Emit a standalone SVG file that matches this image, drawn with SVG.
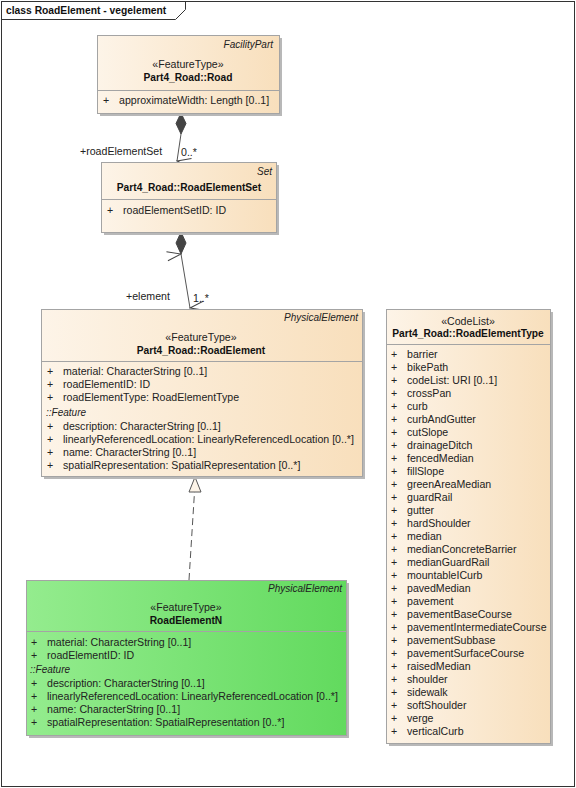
<svg xmlns="http://www.w3.org/2000/svg" width="576" height="788" viewBox="0 0 576 788">
<defs>
<linearGradient id="beige" x1="0" y1="0" x2="1" y2="0">
<stop offset="0" stop-color="#fdf4e8"/>
<stop offset="1" stop-color="#f8dfbc"/>
</linearGradient>
<linearGradient id="green" x1="0" y1="0" x2="1" y2="0">
<stop offset="0" stop-color="#94ec8e"/>
<stop offset="1" stop-color="#62da5e"/>
</linearGradient>
<marker id="openArrow" markerWidth="12" markerHeight="16" refX="6" refY="15" orient="auto-start-reverse" markerUnits="userSpaceOnUse" viewBox="0 0 12 16">
<path d="M1.5,1 L6,15 L10.5,1" fill="none" stroke="#444" stroke-width="1"/>
</marker>
<style>
text{font-family:"Liberation Sans",Arial,sans-serif;font-size:10.6px;fill:#222}
.b{font-weight:bold;fill:#111;font-size:10.2px}
.i{font-style:italic;font-size:10px}
.c{text-anchor:middle}
.r{text-anchor:end}
.box{stroke:#a4a4a4;stroke-width:1}
.sh{fill:#b8b8b8}
.sep{stroke:#a4a4a4;stroke-width:1}
.ln{stroke:#555;stroke-width:1;fill:none}
</style>
</defs>
<rect x="0" y="0" width="576" height="788" fill="#fff"/>
<g id="frame">
<rect x="1.5" y="1.5" width="573" height="785" fill="none" stroke="#333" stroke-width="1"/>
<path d="M1.5,19.5 L175.5,19.5 L185.5,9.5 L185.5,1.5" fill="none" stroke="#333" stroke-width="1"/>
<text x="6" y="14" class="b" style="font-size:10.3px">class RoadElement - vegelement</text>
</g>
<g id="connectors">
<line class="ln" x1="181" y1="134" x2="177" y2="161" marker-end="url(#openArrow)"/>
<path d="M181,113 L186,123.5 L181,134 L176,123.5 Z" fill="#444" stroke="#444"/>
<text x="80" y="155">+roadElementSet</text>
<text x="181" y="156">0..*</text>
<line class="ln" x1="181" y1="254" x2="190" y2="308" marker-start="url(#openArrow)" marker-end="url(#openArrow)"/>
<path d="M181,232 L186,243 L181,254 L176,243 Z" fill="#444" stroke="#444"/>
<text x="126" y="300">+element</text>
<text x="193" y="302">1..*</text>
<line x1="189" y1="580" x2="194.5" y2="492" stroke="#555" stroke-width="1" stroke-dasharray="7,4"/>
<path d="M195,477 L201,492 L189,492 Z" fill="#fdf4e8" stroke="#555" stroke-width="1"/>
</g>
<g id="Road">
<rect class="sh" x="100" y="38" width="182" height="78"/>
<rect class="box" x="97.5" y="35.5" width="182" height="78" fill="url(#beige)"/>
<text x="273" y="48" class="i r">FacilityPart</text>
<text x="188" y="68" class="c">«FeatureType»</text>
<text x="188" y="81" class="b c">Part4_Road::Road</text>
<line class="sep" x1="97.5" y1="90.5" x2="279.5" y2="90.5"/>
<text x="103" y="104">+</text>
<text x="119" y="104">approximateWidth: Length [0..1]</text>
</g>
<g id="RoadElementSet">
<rect class="sh" x="104" y="165" width="175" height="70"/>
<rect class="box" x="101.5" y="162.5" width="175" height="70" fill="url(#beige)"/>
<text x="272" y="175" class="i r">Set</text>
<text x="189" y="191" class="b c">Part4_Road::RoadElementSet</text>
<line class="sep" x1="101.5" y1="199.5" x2="276.5" y2="199.5"/>
<text x="107" y="214">+</text>
<text x="123" y="214">roadElementSetID: ID</text>
</g>
<g id="RoadElement">
<rect class="sh" x="44" y="312" width="321" height="167"/>
<rect class="box" x="41.5" y="309.5" width="321" height="167" fill="url(#beige)"/>
<text x="358" y="321" class="i r">PhysicalElement</text>
<text x="201" y="341" class="c">«FeatureType»</text>
<text x="201" y="354" class="b c">Part4_Road::RoadElement</text>
<line class="sep" x1="41.5" y1="361.5" x2="362.5" y2="361.5"/>
<text x="47" y="375">+</text><text x="63" y="375">material: CharacterString [0..1]</text>
<text x="47" y="388">+</text><text x="63" y="388">roadElementID: ID</text>
<text x="47" y="401">+</text><text x="63" y="401">roadElementType: RoadElementType</text>
<text x="46" y="416" class="i">::Feature</text>
<text x="47" y="430">+</text><text x="63" y="430">description: CharacterString [0..1]</text>
<text x="47" y="443">+</text><text x="63" y="443">linearlyReferencedLocation: LinearlyReferencedLocation [0..*]</text>
<text x="47" y="456">+</text><text x="63" y="456">name: CharacterString [0..1]</text>
<text x="47" y="469">+</text><text x="63" y="469">spatialRepresentation: SpatialRepresentation [0..*]</text>
</g>
<g id="RoadElementN">
<rect class="sh" x="29" y="583" width="320" height="155"/>
<rect class="box" x="26.5" y="580.5" width="320" height="155" fill="url(#green)"/>
<text x="342" y="592" class="i r">PhysicalElement</text>
<text x="186" y="611" class="c">«FeatureType»</text>
<text x="186" y="624" class="b c">RoadElementN</text>
<line class="sep" x1="26.5" y1="631.5" x2="346.5" y2="631.5"/>
<text x="31" y="646">+</text><text x="47" y="646">material: CharacterString [0..1]</text>
<text x="31" y="659">+</text><text x="47" y="659">roadElementID: ID</text>
<text x="30" y="673" class="i">::Feature</text>
<text x="31" y="687">+</text><text x="47" y="687">description: CharacterString [0..1]</text>
<text x="31" y="700">+</text><text x="47" y="700">linearlyReferencedLocation: LinearlyReferencedLocation [0..*]</text>
<text x="31" y="713">+</text><text x="47" y="713">name: CharacterString [0..1]</text>
<text x="31" y="726">+</text><text x="47" y="726">spatialRepresentation: SpatialRepresentation [0..*]</text>
</g>
<g id="RoadElementType">
<rect class="sh" x="389" y="312" width="164" height="434"/>
<rect class="box" x="386.5" y="309.5" width="164" height="434" fill="url(#beige)"/>
<text x="468" y="325" class="c">«CodeList»</text>
<text x="468" y="337" class="b c">Part4_Road::RoadElementType</text>
<line class="sep" x1="386.5" y1="344.5" x2="550.5" y2="344.5"/>
<g>
<text x="391" y="358">+</text><text x="407" y="358">barrier</text>
<text x="391" y="371">+</text><text x="407" y="371">bikePath</text>
<text x="391" y="384">+</text><text x="407" y="384">codeList: URI [0..1]</text>
<text x="391" y="397">+</text><text x="407" y="397">crossPan</text>
<text x="391" y="410">+</text><text x="407" y="410">curb</text>
<text x="391" y="423">+</text><text x="407" y="423">curbAndGutter</text>
<text x="391" y="436">+</text><text x="407" y="436">cutSlope</text>
<text x="391" y="449">+</text><text x="407" y="449">drainageDitch</text>
<text x="391" y="462">+</text><text x="407" y="462">fencedMedian</text>
<text x="391" y="475">+</text><text x="407" y="475">fillSlope</text>
<text x="391" y="488">+</text><text x="407" y="488">greenAreaMedian</text>
<text x="391" y="501">+</text><text x="407" y="501">guardRail</text>
<text x="391" y="514">+</text><text x="407" y="514">gutter</text>
<text x="391" y="527">+</text><text x="407" y="527">hardShoulder</text>
<text x="391" y="540">+</text><text x="407" y="540">median</text>
<text x="391" y="553">+</text><text x="407" y="553">medianConcreteBarrier</text>
<text x="391" y="566">+</text><text x="407" y="566">medianGuardRail</text>
<text x="391" y="579">+</text><text x="407" y="579">mountableICurb</text>
<text x="391" y="592">+</text><text x="407" y="592">pavedMedian</text>
<text x="391" y="605">+</text><text x="407" y="605">pavement</text>
<text x="391" y="618">+</text><text x="407" y="618">pavementBaseCourse</text>
<text x="391" y="631">+</text><text x="407" y="631">pavementIntermediateCourse</text>
<text x="391" y="644">+</text><text x="407" y="644">pavementSubbase</text>
<text x="391" y="657">+</text><text x="407" y="657">pavementSurfaceCourse</text>
<text x="391" y="670">+</text><text x="407" y="670">raisedMedian</text>
<text x="391" y="683">+</text><text x="407" y="683">shoulder</text>
<text x="391" y="696">+</text><text x="407" y="696">sidewalk</text>
<text x="391" y="709">+</text><text x="407" y="709">softShoulder</text>
<text x="391" y="722">+</text><text x="407" y="722">verge</text>
<text x="391" y="735">+</text><text x="407" y="735">verticalCurb</text>
</g>
</g>
</svg>
